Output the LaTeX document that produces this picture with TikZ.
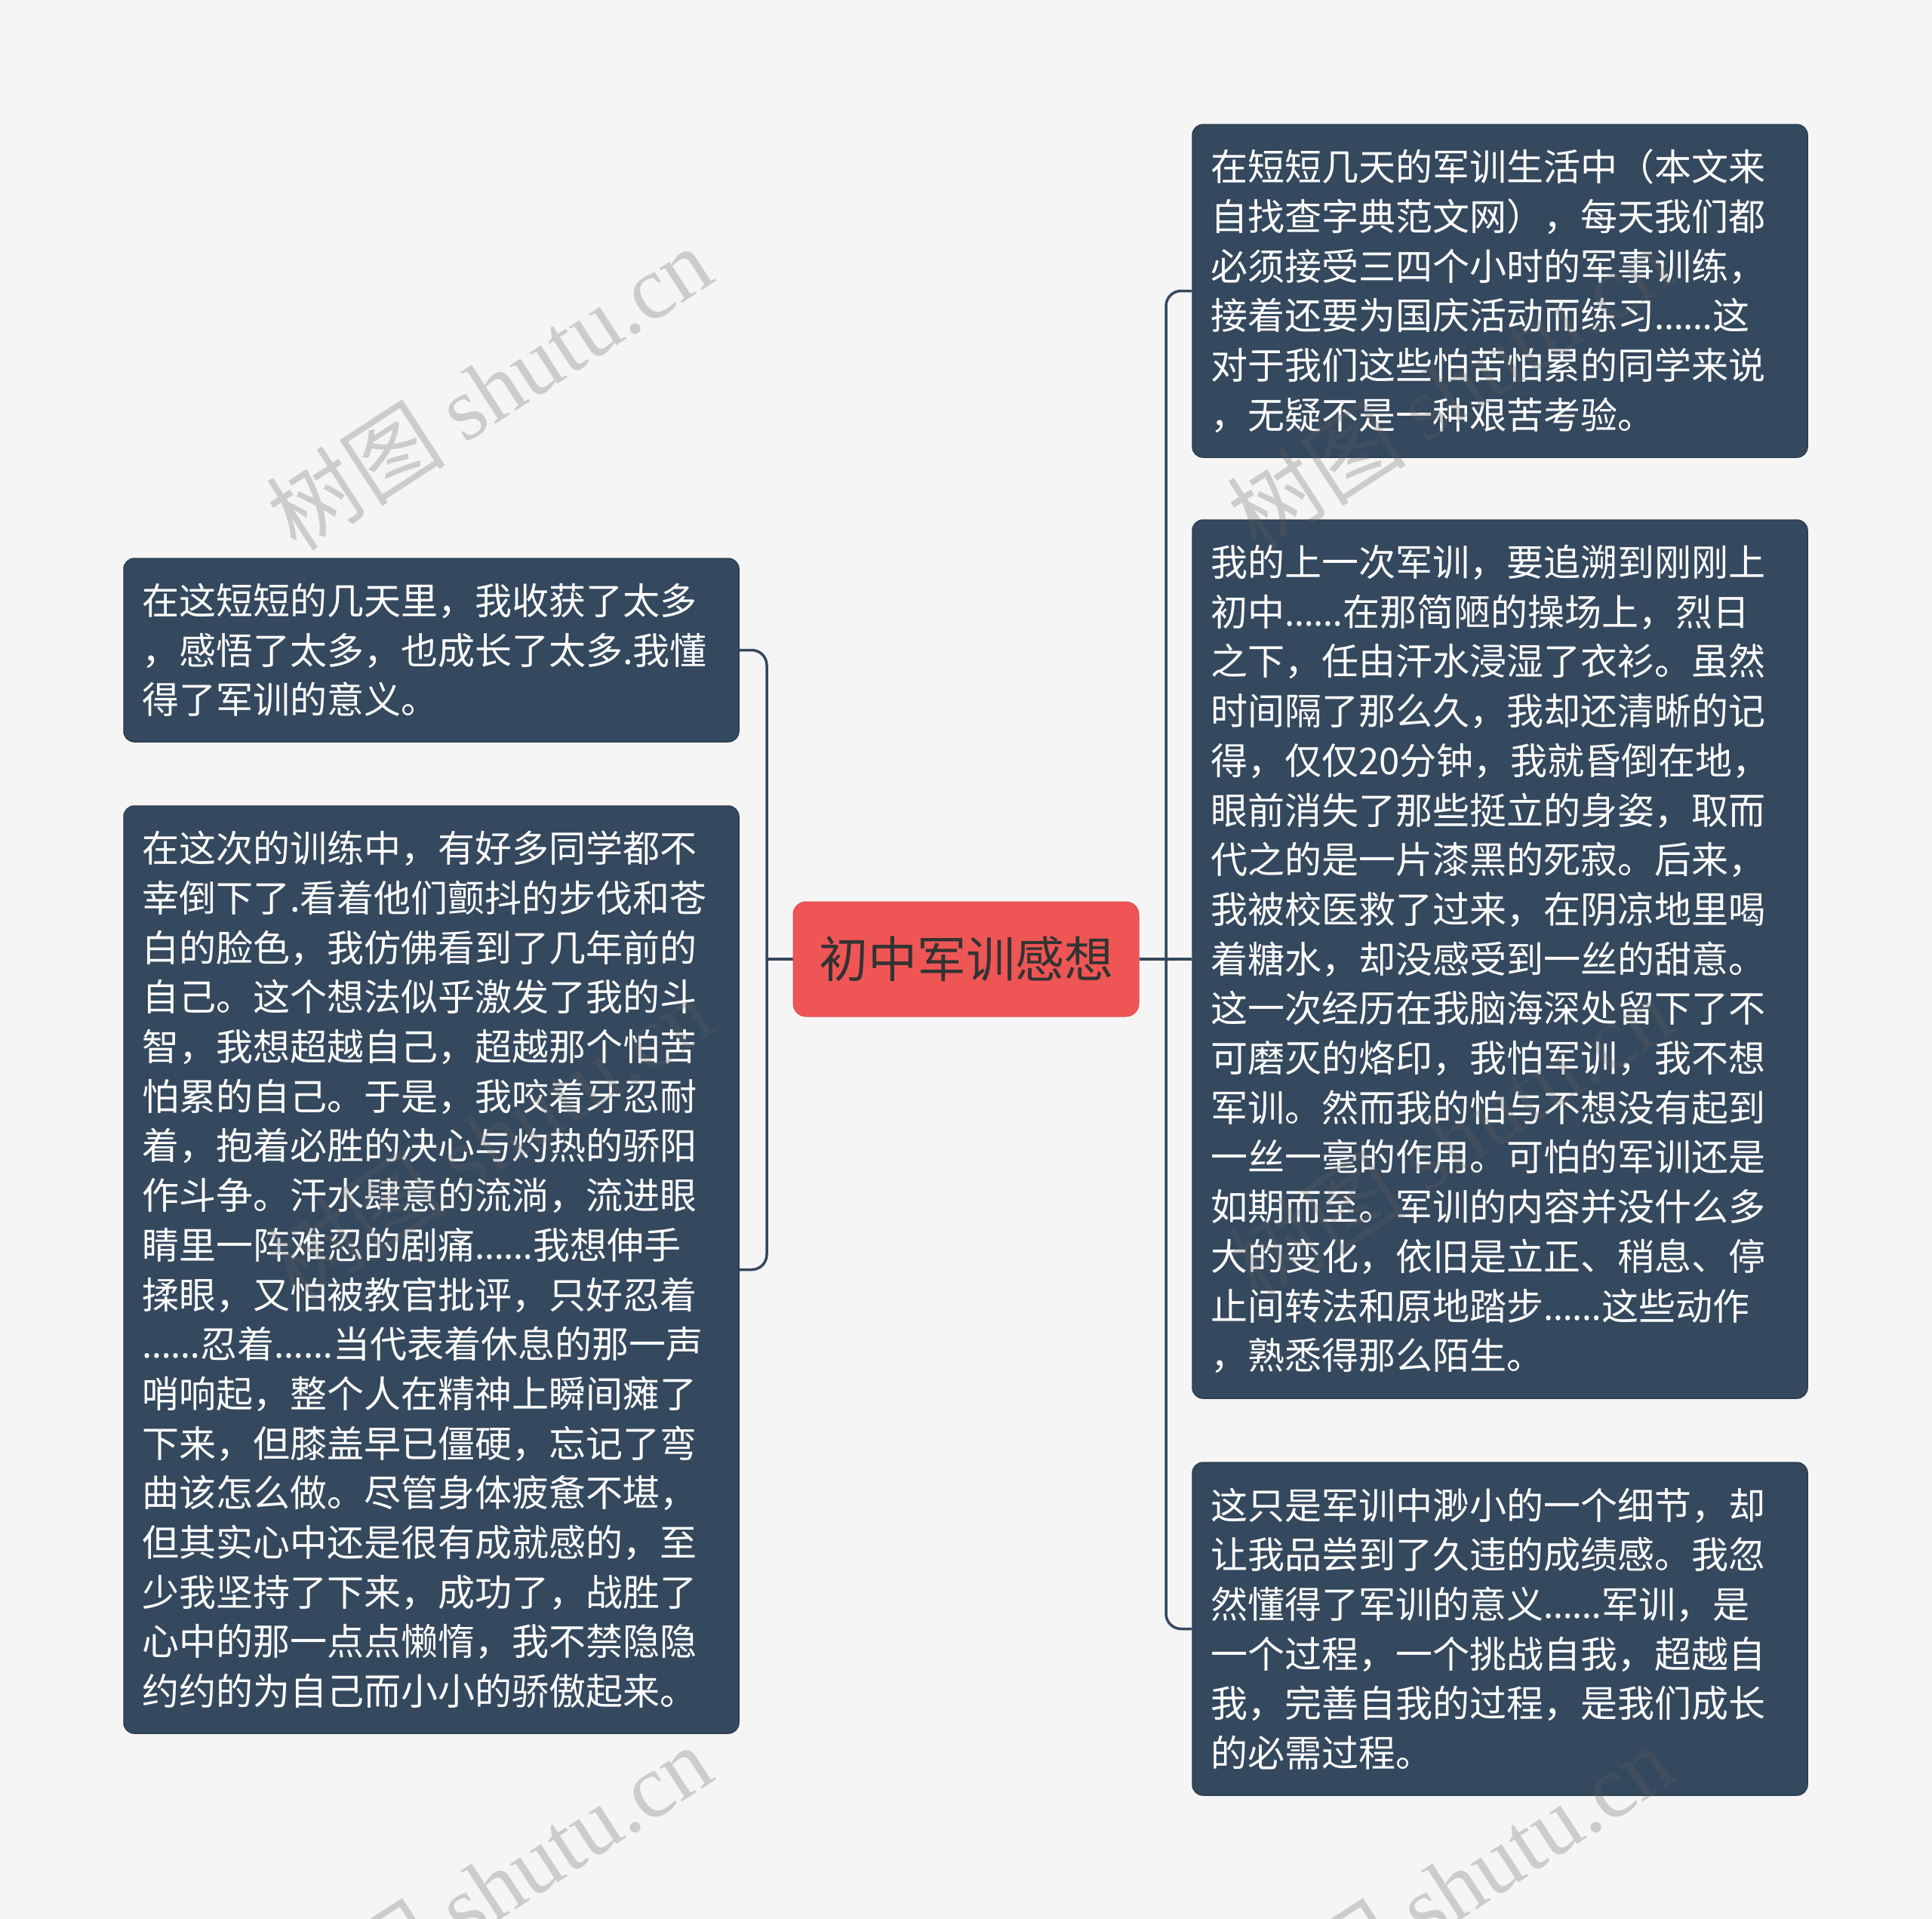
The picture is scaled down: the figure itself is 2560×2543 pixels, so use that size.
\documentclass[tikz,border=0pt]{standalone}
\usepackage{fontspec}
\setmainfont{Noto Sans CJK SC}
\newfontfamily\latinfont{Noto Sans}
\newfontfamily\wmserif{Liberation Serif}
\newfontfamily\wmcjk{Noto Sans CJK SC}
\newcommand\elp{{\latinfont\char"2026\char"2026}}
\definecolor{bgcol}{HTML}{F5F5F5}
\definecolor{leafblue}{HTML}{34485E}
\definecolor{leafedge}{HTML}{2C3E50}
\definecolor{topicred}{HTML}{EF5555}
\definecolor{topictext}{HTML}{333333}
\definecolor{wmgray}{HTML}{606060}
\pgfdeclarelayer{bg}
\pgfsetlayers{bg,main}
\tikzset{
  topic/.style={rectangle, rounded corners=17pt, fill=topicred, draw=topicred!92!black, line width=1pt,
    minimum width=458pt, minimum height=152pt, inner sep=0pt, text=topictext,
    font=\fontsize{65}{78}\selectfont},
  leaf/.style={rectangle, rounded corners=14pt, fill=leafblue, draw=leafedge, line width=1.5pt,
    inner xsep=24pt, inner ysep=0pt, minimum width=815pt, text width=767pt, align=left,
    text=white, font=\fontsize{49}{65.7}\selectfont},
  conn/.style={draw=leafblue, line width=3.5pt, rounded corners=20pt},
  wm/.style={text=wmgray, opacity=0.275, rotate=33, inner sep=0pt, font=\fontsize{119}{122}\selectfont}
}
\begin{document}
\begin{tikzpicture}[x=1pt,y=-1pt]
\begin{pgfonlayer}{bg}
  \fill[bgcol] (0,0) rectangle (2560,2543);
\end{pgfonlayer}
\useasboundingbox (0,0) rectangle (2560,2543);

\node[topic] (c) at (1280,1271) {初中军训感想};

\node[leaf, minimum height=243pt] (l1) at (571.5,861.5) {在这短短的几天里，我收获了太多\\
，感悟了太多，也成长了太多.我懂\\
得了军训的意义。};

\node[leaf, minimum height=1229pt] (l2) at (571.5,1682.5) {在这次的训练中，有好多同学都不\\
幸倒下了.看着他们颤抖的步伐和苍\\
白的脸色，我仿佛看到了几年前的\\
自己。这个想法似乎激发了我的斗\\
智，我想超越自己，超越那个怕苦\\
怕累的自己。于是，我咬着牙忍耐\\
着，抱着必胜的决心与灼热的骄阳\\
作斗争。汗水肆意的流淌，流进眼\\
睛里一阵难忍的剧痛\elp 我想伸手\\
揉眼，又怕被教官批评，只好忍着\\
\elp 忍着\elp 当代表着休息的那一声\\
哨响起，整个人在精神上瞬间瘫了\\
下来，但膝盖早已僵硬，忘记了弯\\
曲该怎么做。尽管身体疲惫不堪，\\
但其实心中还是很有成就感的，至\\
少我坚持了下来，成功了，战胜了\\
心中的那一点点懒惰，我不禁隐隐\\
约约的为自己而小小的骄傲起来。};

\node[leaf, minimum height=441pt] (r1) at (1987.5,385.5) {在短短几天的军训生活中（本文来\\
自找查字典范文网），每天我们都\\
必须接受三四个小时的军事训练，\\
接着还要为国庆活动而练习\elp 这\\
对于我们这些怕苦怕累的同学来说\\
，无疑不是一种艰苦考验。};

\node[leaf, minimum height=1164pt] (r2) at (1987.5,1271) {我的上一次军训，要追溯到刚刚上\\
初中\elp 在那简陋的操场上，烈日\\
之下，任由汗水浸湿了衣衫。虽然\\
时间隔了那么久，我却还清晰的记\\
得，仅仅20分钟，我就昏倒在地，\\
眼前消失了那些挺立的身姿，取而\\
代之的是一片漆黑的死寂。后来，\\
我被校医救了过来，在阴凉地里喝\\
着糖水，却没感受到一丝的甜意。\\
这一次经历在我脑海深处留下了不\\
可磨灭的烙印，我怕军训，我不想\\
军训。然而我的怕与不想没有起到\\
一丝一毫的作用。可怕的军训还是\\
如期而至。军训的内容并没什么多\\
大的变化，依旧是立正、稍息、停\\
止间转法和原地踏步\elp 这些动作\\
，熟悉得那么陌生。};

\node[leaf, minimum height=441pt] (r3) at (1987.5,2158.5) {这只是军训中渺小的一个细节，却\\
让我品尝到了久违的成绩感。我忽\\
然懂得了军训的意义\elp 军训，是\\
一个过程，一个挑战自我，超越自\\
我，完善自我的过程，是我们成长\\
的必需过程。};

\coordinate (lj) at (1016,1271);
\coordinate (rj) at (1545,1271);

\begin{pgfonlayer}{bg}
  \draw[conn] (c.west) -- (lj);
  \draw[conn] (l1.east) -| (lj);
  \draw[conn] (l2.east) -| (lj);
  \draw[conn] (c.east) -- (rj);
  \draw[conn] (r1.west) -| (rj);
  \draw[conn] (r2.west) -- (rj);
  \draw[conn] (r3.west) -| (rj);
\end{pgfonlayer}

\node[wm] (wm1) at (648,514) {{\wmcjk 树图} {\wmserif shutu.cn}};
\node[wm] (wm2) at (1921,514) {{\wmcjk 树图} {\wmserif shutu.cn}};
\node[wm] (wm3) at (648,1508) {{\wmcjk 树图} {\wmserif shutu.cn}};
\node[wm] (wm4) at (1921,1508) {{\wmcjk 树图} {\wmserif shutu.cn}};
\node[wm] (wm5) at (648,2500) {{\wmcjk 树图} {\wmserif shutu.cn}};
\node[wm] (wm6) at (1921,2500) {{\wmcjk 树图} {\wmserif shutu.cn}};
\end{tikzpicture}
\end{document}
